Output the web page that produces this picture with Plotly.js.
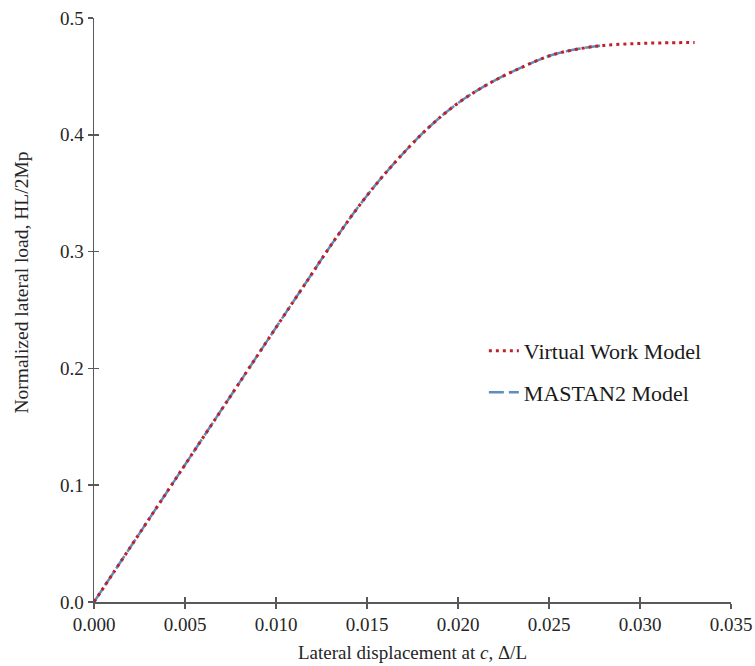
<!DOCTYPE html>
<html>
<head>
<meta charset="utf-8">
<script src="https://cdn.plot.ly/plotly-3.0.1.min.js"></script>
<style>html,body{margin:0;padding:0;background:#fff;}#chart{width:755px;height:666px;}</style>
</head>
<body>
<div id="chart"></div>
<script>
// Virtual Work Model (dotted red)
const vwX = [0, 0.002, 0.004, 0.006, 0.008, 0.010, 0.0118, 0.0130, 0.0148, 0.0164, 0.0183, 0.0199, 0.0216, 0.0234, 0.0252, 0.0268, 0.0280, 0.0296, 0.0312, 0.0330];
const vwY = [0, 0.047, 0.094, 0.141, 0.188, 0.235, 0.277, 0.305, 0.344, 0.374, 0.405, 0.426, 0.443, 0.457, 0.4685, 0.474, 0.4765, 0.478, 0.4787, 0.479];
// MASTAN2 Model (dashed blue)
const msX = [0, 0.002, 0.004, 0.006, 0.008, 0.010, 0.0118, 0.0130, 0.0148, 0.0164, 0.0183, 0.0199, 0.0216, 0.0234, 0.0252, 0.0268, 0.0280];
const msY = [0, 0.047, 0.094, 0.141, 0.188, 0.235, 0.277, 0.305, 0.344, 0.374, 0.405, 0.426, 0.443, 0.457, 0.4685, 0.474, 0.4765];
const xTicks = [0, 0.005, 0.010, 0.015, 0.020, 0.025, 0.030, 0.035];
const xTickText = ["0.000", "0.005", "0.010", "0.015", "0.020", "0.025", "0.030", "0.035"];
const yTicks = [0, 0.1, 0.2, 0.3, 0.4, 0.5];
const yTickText = ["0.0", "0.1", "0.2", "0.3", "0.4", "0.5"];
const seriesNames = ["Virtual Work Model", "MASTAN2 Model"];
const xTitle = "Lateral displacement at <i>c</i>, Δ/L";
const yTitle = "Normalized lateral load, HL/2Mp";

const FONT = "Liberation Serif, Times New Roman, serif";
const AX = "#595959";

const traces = [
  {x: msX, y: msY, name: seriesNames[1], type: "scatter", mode: "lines",
   line: {color: "#5a8fc0", width: 2.5, dash: "15px,5px", shape: "spline", smoothing: 1},
   legendrank: 2, legendgroup: "b"},
  {x: vwX, y: vwY, name: seriesNames[0], type: "scatter", mode: "lines",
   line: {color: "#c0202a", width: 3, dash: "3px,4px", shape: "spline", smoothing: 1},
   legendrank: 1, legendgroup: "a"},
  // helper invisible trace to draw inner half of crossing ticks
  {x: [0], y: [0], xaxis: "x2", yaxis: "y2", mode: "markers", marker: {opacity: 0}, showlegend: false, hoverinfo: "skip"}
];

const layout = {
  width: 755, height: 666,
  margin: {l: 94, r: 24, t: 18, b: 64},
  paper_bgcolor: "#fff", plot_bgcolor: "#fff",
  font: {family: FONT, size: 19, color: "#262626"},
  showlegend: true,
  legend: {x: 0.612, y: 0.466, xanchor: "left", yanchor: "top",
           font: {family: FONT, size: 22, color: "#1a1a1a"},
           traceorder: "grouped", tracegroupgap: 10, bgcolor: "rgba(0,0,0,0)"},
  xaxis: {range: [0, 0.035], tickvals: xTicks, ticktext: xTickText,
          showgrid: false, zeroline: false, showline: true, linecolor: AX, linewidth: 1.5,
          ticks: "outside", ticklen: 5, tickwidth: 1.5, tickcolor: AX,
          tickfont: {family: FONT, size: 19, color: "#262626"},
          title: {text: xTitle, font: {family: FONT, size: 19, color: "#262626"}, standoff: 11}},
  yaxis: {range: [0, 0.5], tickvals: yTicks, ticktext: yTickText,
          showgrid: false, zeroline: false, showline: true, linecolor: AX, linewidth: 1.5,
          ticks: "outside", ticklen: 5, tickwidth: 1.5, tickcolor: AX,
          tickfont: {family: FONT, size: 19, color: "#262626"}},
  xaxis2: {overlaying: "x", matches: "x", range: [0, 0.035], tickvals: xTicks, showticklabels: false,
           showgrid: false, zeroline: false, showline: false, ticks: "inside", ticklen: 5, tickwidth: 1.5, tickcolor: AX},
  yaxis2: {overlaying: "y", matches: "y", range: [0, 0.5], tickvals: yTicks, showticklabels: false,
           showgrid: false, zeroline: false, showline: false, ticks: "inside", ticklen: 5, tickwidth: 1.5, tickcolor: AX},
  annotations: [
    {text: yTitle, xref: "paper", yref: "paper", x: -0.113, y: 0.547, xanchor: "center", yanchor: "middle",
     textangle: -90, showarrow: false, font: {family: FONT, size: 19.5, color: "#262626"}}
  ]
};

Plotly.newPlot("chart", traces, layout, {displayModeBar: false, staticPlot: true});
</script>
</body>
</html>
